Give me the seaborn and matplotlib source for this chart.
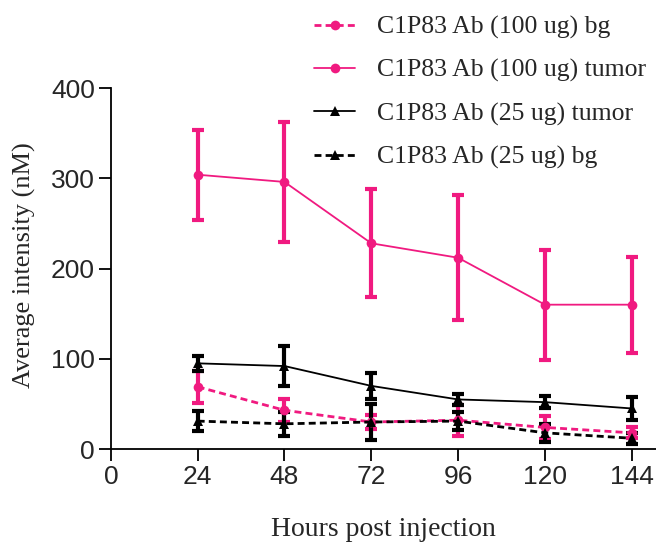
import numpy as np
import pandas as pd
import matplotlib
matplotlib.use("Agg")
import matplotlib.pyplot as plt
import seaborn as sns

hours = [24, 48, 72, 96, 120, 144]

ab100_bg = [69, 43, 30, 32, 24, 18]
ab100_bg_err = [18, 13, 8, 17, 13, 6]
ab100_tumor = [304, 296, 228, 212, 160, 160]
ab100_tumor_err = [50, 66, 60, 69, 61, 53]
ab25_tumor = [95, 92, 70, 55, 52, 45]
ab25_tumor_err = [8, 22, 14, 6, 7, 13]
ab25_bg = [31, 28, 30, 31, 18, 12]
ab25_bg_err = [11, 13, 20, 10, 10, 6]

labels = ['C1P83 Ab (100 ug) bg', 'C1P83 Ab (100 ug) tumor',
          'C1P83 Ab (25 ug) tumor', 'C1P83 Ab (25 ug) bg']
pink = '#F01A80'

sns.set_style('ticks')
plt.rcParams['font.family'] = ['Liberation Sans', 'DejaVu Sans']

fig = plt.figure(figsize=(6.56, 5.45), dpi=100)
ax = fig.add_axes([0.169, 0.176, 0.831, 0.6624])

series = [
    (ab100_bg, ab100_bg_err, pink, 'o', (0, (2.5, 1.5)), 2.0),
    (ab100_tumor, ab100_tumor_err, pink, 'o', '-', 1.3),
    (ab25_tumor, ab25_tumor_err, 'black', '^', '-', 1.3),
    (ab25_bg, ab25_bg_err, 'black', '^', (0, (2.5, 1.5)), 2.0),
]

for (vals, errs, col, mk, ls, lw), lab in zip(series, labels):
    df = pd.DataFrame({'hours': hours, 'value': vals})
    ax.errorbar(df['hours'], df['value'], yerr=errs, fmt='none',
                ecolor=col, elinewidth=3, capsize=4, capthick=3, zorder=2)
    sns.lineplot(data=df, x='hours', y='value', ax=ax, color=col,
                 marker=mk, markersize=7, markeredgewidth=0,
                 linestyle=ls, linewidth=lw, label=lab, zorder=3)

ax.legend_.remove()
h, l = ax.get_legend_handles_labels()
fig.legend(h, l, loc='upper right', bbox_to_anchor=(1.005, 0.995), frameon=False,
           prop={'family': 'Liberation Serif', 'size': 18.5},
           handlelength=1.6, handletextpad=0.85, labelspacing=0.78,
           borderaxespad=0.1)

ax.set_xlim(0, 150.7)
ax.set_ylim(0, 400)
ax.set_xticks([0, 24, 48, 72, 96, 120, 144])
ax.set_yticks([0, 100, 200, 300, 400])
ax.tick_params(axis='both', labelsize=19, width=1.3, length=8.5,
               color='black', pad=3)
for s in ['left', 'bottom']:
    ax.spines[s].set_linewidth(1.3)
    ax.spines[s].set_color('black')
sns.despine(ax=ax)

ax.set_xlabel('Hours post injection', family='Liberation Serif', size=20,
              labelpad=20)
ax.set_ylabel('Average intensity (nM)', family='Liberation Serif', size=19)
ax.yaxis.set_label_coords(-0.137, 0.51)

fig.savefig('out.png', dpi=100)
